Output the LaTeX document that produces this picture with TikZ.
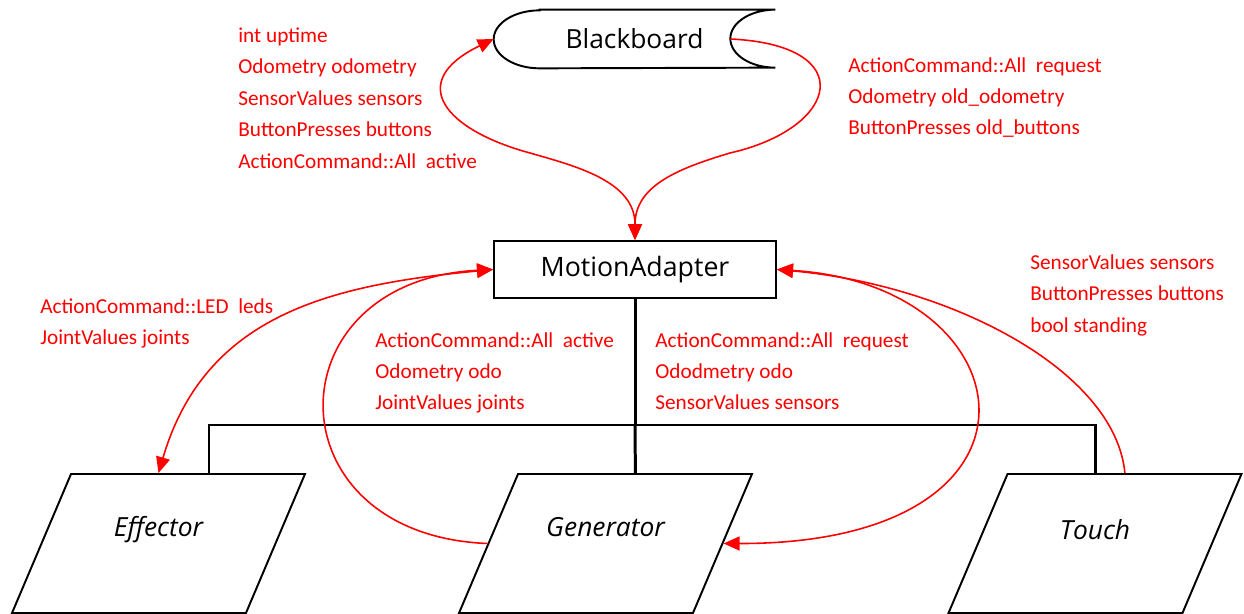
\documentclass[tikz,border=0pt]{standalone}
\usepackage{fontspec}
\setmainfont{Carlito}
\newfontfamily\shapefont{Open Sans}
\usetikzlibrary{arrows.meta,shapes.geometric,calc}

\begin{document}
\begin{tikzpicture}[x=0.02cm, y=-0.02cm,
  >={Triangle[length=0.32cm, width=0.28cm]},
  store/.style={minimum width=5.62cm, minimum height=1.16cm, inner sep=0pt, font=\shapefont\fontsize{15}{18}\selectfont},
  module/.style={draw, line width=1.1pt, rectangle, minimum width=5.64cm, minimum height=1.14cm, inner sep=0pt, font=\shapefont\fontsize{15.2}{18}\selectfont},
  part/.style={draw, line width=1.1pt, trapezium, trapezium left angle=67, trapezium right angle=113, trapezium stretches body, minimum width=5.86cm, text height=1.24cm, text depth=1.54cm, inner sep=0pt, font=\shapefont\itshape\fontsize{15}{18}\selectfont},
  fields/.style={text=red, anchor=north west, align=left, inner sep=0pt, font=\fontsize{12.1}{17.86}\selectfont},
  flow/.style={draw=red, line width=0.9pt},
  bus/.style={line width=1.7pt}]

\useasboundingbox (0,0) rectangle (1244,614);

\node[store] (bb) at (634.5,39) {Blackboard};
\draw[line width=1.1pt] ([xshift=0.92cm]bb.north west) -- (bb.north east)
  arc[start angle=90, end angle=270, x radius=0.9cm, y radius=0.58cm]
  -- ([xshift=0.92cm]bb.south west)
  arc[start angle=270, end angle=90, x radius=0.92cm, y radius=0.58cm] -- cycle;
\coordinate (bbout) at ([xshift=-0.9cm]bb.east);

\node[module] (ma) at (635,269.5) {MotionAdapter};

\node[part] (eff) at (158.5,543.5) {Effector};
\node[part] (gen) at (605.5,543.5) {Generator};
\node[part, text height=1.3cm, text depth=1.48cm] (tch) at (1095,543.5) {Touch};

\coordinate (hub) at (635,425);
\draw[bus] (ma.south) -- (hub);
\draw[bus] (hub) -- ($(gen.top left corner)!0.5!(gen.top right corner)$);
\draw[bus] ([xshift=1.01cm]eff.north) |- (hub) -| (tch.north);

\draw[flow, <->] (bb.west) .. controls (405,82) and (445,130) .. (530,153) .. controls (575,166) and (635,181) .. (ma.north);
\draw[flow, ->] (bbout) .. controls (860,45) and (840,128) .. (730,153) .. controls (680,168) and (635,185) .. (ma.north);
\draw[flow, <->] (ma.west) .. controls (330,285) and (205,315) .. (eff.north);
\draw[flow, ->] (gen.west) .. controls (270,535) and (270,281) .. (ma.west);
\draw[flow, <->] (ma.east) .. controls (1030,285) and (1070,544) .. (gen.east);
\draw[flow, ->] ($(tch.top left corner)!0.5!(tch.top right corner)$) .. controls (1115,370) and (950,285) .. (ma.east);

\node[fields] (bbread) at (238,27.5) {int uptime\\Odometry odometry\\SensorValues sensors\\ButtonPresses buttons\\ActionCommand::All\ \ active};
\node[fields] (bbwrite) at (848,57) {ActionCommand::All\ \ request\\Odometry old\_odometry\\ButtonPresses old\_buttons};
\node[fields] (effdata) at (40,298) {ActionCommand::LED\ \ leds\\JointValues joints};
\node[fields] (genin) at (375,332) {ActionCommand::All\ \ active\\Odometry odo\\JointValues joints};
\node[fields] (genout) at (655,332) {ActionCommand::All\ \ request\\Ododmetry odo\\SensorValues sensors};
\node[fields] (tchdata) at (1030,254.5) {SensorValues sensors\\ButtonPresses buttons\\bool standing};
\end{tikzpicture}
\end{document}
